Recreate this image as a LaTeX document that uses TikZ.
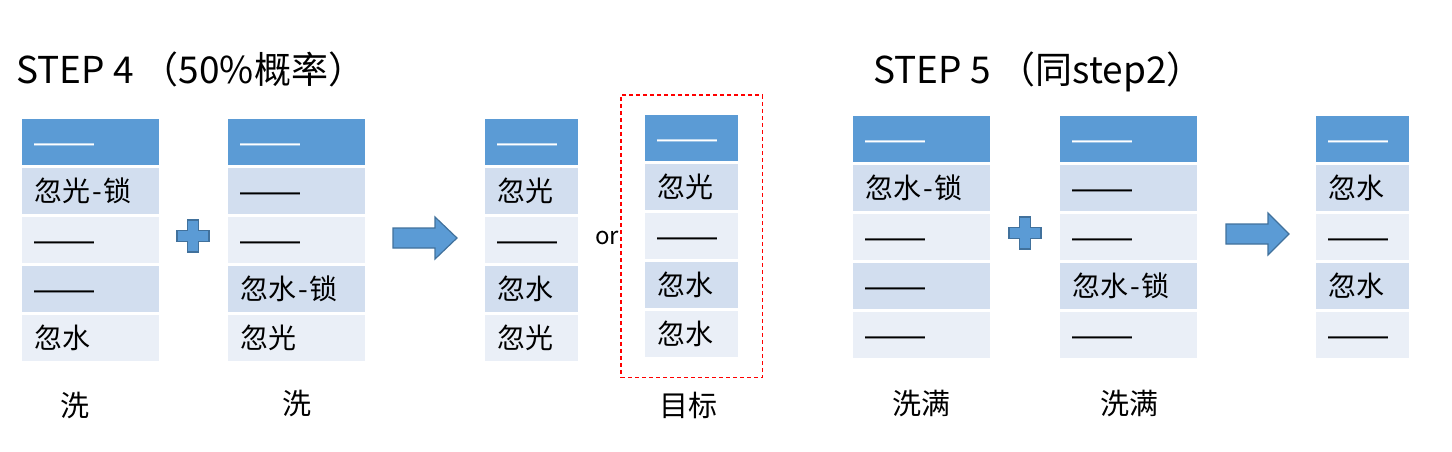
\documentclass[tikz,border=0pt]{standalone}
\usepackage{fontspec}
\setmainfont{Noto Sans CJK SC}
\newfontfamily\dashfont{Liberation Sans}
\usetikzlibrary{fit}
\definecolor{hdr}{HTML}{5B9BD5}
\definecolor{rowd}{HTML}{D2DEEF}
\definecolor{rowl}{HTML}{EAEFF7}
\definecolor{edgeblue}{HTML}{41719C}
\newcommand\dd{{\dashfont\fontsize{30}{30}\selectfont ——}}
\newcommand\hy{\kern2pt-\kern2pt}
\tikzset{
  cellbase/.style={rectangle, anchor=north west, minimum height=46pt, inner xsep=12pt, inner ysep=0pt,
    align=left, text height=24pt, text depth=4pt, font=\fontsize{28}{30}\selectfont},
  hdrcell/.style={cellbase, fill=hdr, text=white},
  darkcell/.style={cellbase, fill=rowd},
  lightcell/.style={cellbase, fill=rowl},
  titletext/.style={anchor=base west, inner sep=0pt, font=\fontsize{37}{40}\selectfont},
  labeltext/.style={inner sep=0pt, font=\fontsize{29}{30}\selectfont},
  blockshape/.style={fill=hdr, draw=edgeblue, line width=1.2pt, line join=miter},
}
% #1 name, #2 x, #3 top, #4 width, #5 text width, #6..#9 rows
\newcommand\mytab[9]{%
  \node[hdrcell, minimum width=#4pt, text width=#5pt] (#1h) at (#2,#3) {\dd};
  \node[darkcell, minimum width=#4pt, text width=#5pt] (#1a) at (#2,#3+49) {#6};
  \node[lightcell, minimum width=#4pt, text width=#5pt] (#1b) at (#2,#3+98) {#7};
  \node[darkcell, minimum width=#4pt, text width=#5pt] (#1c) at (#2,#3+147) {#8};
  \node[lightcell, minimum width=#4pt, text width=#5pt] (#1d) at (#2,#3+196) {#9};
}
\newcommand\myplus[2]{%
  \draw[blockshape] (#1-5.5,#2-16) -- (#1+5.5,#2-16) -- (#1+5.5,#2-5.5) -- (#1+16,#2-5.5)
    -- (#1+16,#2+5.5) -- (#1+5.5,#2+5.5) -- (#1+5.5,#2+16) -- (#1-5.5,#2+16)
    -- (#1-5.5,#2+5.5) -- (#1-16,#2+5.5) -- (#1-16,#2-5.5) -- (#1-5.5,#2-5.5) -- cycle;
}
% #1 x start, #2 head x, #3 tip x, #4 center y
\newcommand\myarrow[4]{%
  \draw[blockshape] (#1,#4-10) -- (#2,#4-10) -- (#2,#4-21) -- (#3,#4) -- (#2,#4+21)
    -- (#2,#4+10) -- (#1,#4+10) -- cycle;
}
\begin{document}
\begin{tikzpicture}[x=1pt,y=-1pt]
\useasboundingbox (0,0) rectangle (1452,451);

\node[titletext] (title4) at (16,83) {STEP 4 （50\%概率）};
\node[titletext] (title5) at (873,83) {STEP 5 （同step2）};

\mytab{ta}{22}{119}{137}{113}{忽光\hy 锁}{\dd}{\dd}{忽水}
\mytab{tb}{228}{119}{137}{113}{\dd}{\dd}{忽水\hy 锁}{忽光}
\mytab{tc}{485}{119}{93}{69}{忽光}{\dd}{忽水}{忽光}
\mytab{td}{645}{115}{93}{69}{忽光}{\dd}{忽水}{忽水}
\mytab{te}{853}{116}{137}{113}{忽水\hy 锁}{\dd}{\dd}{\dd}
\mytab{tf}{1060}{116}{137}{113}{\dd}{\dd}{忽水\hy 锁}{\dd}
\mytab{tg}{1316}{116}{93}{69}{忽水}{\dd}{忽水}{\dd}

\node[draw=red, line width=1.3pt, dash pattern=on 4pt off 3pt, inner xsep=24pt, inner ysep=20pt,
  fit=(tdh)(tdd)] (target) {};

\node[anchor=base west, inner sep=0pt, font=\fontsize{24}{26}\selectfont] (or) at (595,244) {or};

\myplus{193}{236}
\myplus{1025}{233}
\myarrow{393}{435}{457}{238}
\myarrow{1226}{1268}{1289}{234}

\node[labeltext] (la) at (75,405) {洗};
\node[labeltext] (lb) at (297,403) {洗};
\node[labeltext] (ld) at (688,405) {目标};
\node[labeltext] (le) at (921,403) {洗满};
\node[labeltext] (lf) at (1129,403) {洗满};
\end{tikzpicture}
\end{document}
